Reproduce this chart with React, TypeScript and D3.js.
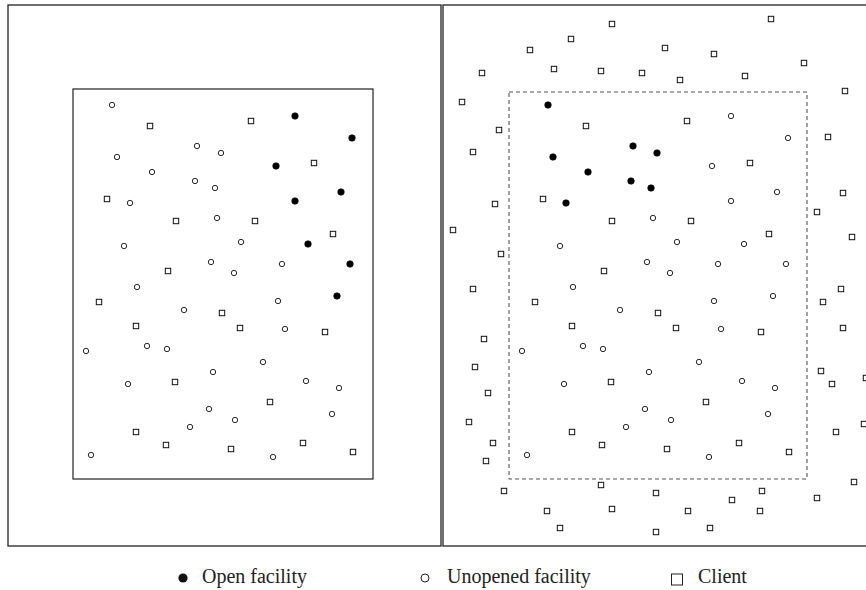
import React from "react";
import * as d3 from "d3";

const WIDTH = 866;
const HEIGHT = 590;

// candidate facility sites, shared by both panels (x right, y up; inner region is 0..300 x 0..390)
const facilities: [number, number][] = [
  [39, 374], [124, 333], [148, 326], [44, 322], [79, 307], [122, 298], [142, 291], [57, 276],
  [144, 261], [51, 233], [168, 237], [138, 217], [209, 215], [161, 206], [64, 192], [205, 178],
  [111, 169], [212, 150], [13, 128], [74, 133], [94, 130], [190, 117], [140, 107], [55, 95],
  [233, 98], [266, 91], [136, 70], [259, 65], [162, 59], [117, 52], [18, 24], [200, 22],
  [222, 363], [279, 341], [203, 313], [268, 287], [222, 278], [235, 235], [277, 215], [264, 183],
];

// which facilities are opened in each panel
const openLeft = [32, 33, 34, 35, 36, 37, 38, 39];
const openRight = [0, 1, 2, 3, 4, 5, 6, 7];

// clients inside the region (both panels)
const clients: [number, number][] = [
  [77, 353], [178, 358], [241, 316], [34, 280], [103, 258], [182, 258], [260, 245], [95, 208],
  [26, 177], [149, 166], [63, 153], [167, 151], [252, 147], [102, 97], [197, 77], [63, 47],
  [93, 34], [158, 30], [230, 36], [280, 27],
];

// extra clients outside the region (right panel only)
const outerClients: [number, number][] = [
  [103, 455], [62, 440], [21, 429], [-27, 406], [45, 410], [92, 408], [133, 406], [-47, 377],
  [-10, 349], [-36, 327], [-14, 275], [-56, 249], [-8, 225], [262, 460], [156, 431], [205, 425],
  [295, 416], [171, 399], [236, 403], [336, 388], [319, 342], [334, 286], [308, 267], [343, 242],
  [-36, 190], [-25, 140], [-34, 112], [-21, 86], [-40, 57], [-16, 36], [-23, 18], [-5, -12],
  [92, -6], [147, -14], [38, -32], [103, -30], [51, -49], [147, -53], [332, 190], [314, 177],
  [334, 151], [312, 108], [323, 95], [357, 101], [327, 47], [355, 55], [345, -3], [253, -12],
  [223, -21], [308, -19], [179, -32], [251, -32], [201, -49],
];

const legendLabels = ["Open facility", "Unopened facility", "Client"];

const yScale = d3.scaleLinear().domain([-67, 474]).range([546, 5]);

const panels = [
  {
    key: "left",
    x: d3.scaleLinear().domain([-65, 368]).range([8, 441]),
    box: [300, 390],
    dashed: false,
    open: openLeft,
    clientList: clients,
  },
  {
    key: "right",
    x: d3.scaleLinear().domain([-66, 367]).range([443, 876]),
    box: [298, 387],
    dashed: true,
    open: openRight,
    clientList: clients.concat(outerClients),
  },
];

const SQ = 5.4;

function Panel({ p }: { p: (typeof panels)[number] }) {
  const [xMin, xMax] = p.x.domain();
  const [yMin, yMax] = yScale.domain();
  return (
    <g>
      <rect
        x={p.x(xMin)}
        y={yScale(yMax)}
        width={p.x(xMax) - p.x(xMin)}
        height={yScale(yMin) - yScale(yMax)}
        fill="none"
        stroke="#222"
        strokeWidth={1.3}
      />
      <rect
        x={p.x(0)}
        y={yScale(p.box[1])}
        width={p.x(p.box[0]) - p.x(0)}
        height={yScale(0) - yScale(p.box[1])}
        fill="none"
        stroke={p.dashed ? "#555" : "#222"}
        strokeWidth={p.dashed ? 1.1 : 1.2}
        strokeDasharray={p.dashed ? "4,3" : undefined}
      />
      {p.clientList.map(([cx, cy], i) => (
        <rect
          key={"c" + i}
          x={p.x(cx) - SQ / 2}
          y={yScale(cy) - SQ / 2}
          width={SQ}
          height={SQ}
          fill="white"
          stroke="#111"
          strokeWidth={1}
        />
      ))}
      {facilities.map(([fx, fy], i) => {
        const isOpen = p.open.includes(i);
        return (
          <circle
            key={"f" + i}
            cx={p.x(fx)}
            cy={yScale(fy)}
            r={isOpen ? 3.3 : 2.7}
            fill={isOpen ? "#000" : "white"}
            stroke="#111"
            strokeWidth={isOpen ? 0.6 : 0.9}
          />
        );
      })}
    </g>
  );
}

export default function App() {
  return (
    <svg
      width={WIDTH}
      height={HEIGHT}
      style={{ position: "absolute", left: 0, top: 0, background: "white" }}
    >
      {panels.map((p) => (
        <Panel key={p.key} p={p} />
      ))}
      <g fontFamily="'Liberation Serif', 'Times New Roman', serif" fontSize={20} fill="#222">
        <circle cx={183} cy={578} r={4.6} fill="#111" />
        <text x={202} y={583}>{legendLabels[0]}</text>
        <circle cx={425} cy={578} r={4} fill="white" stroke="#222" strokeWidth={1} />
        <text x={447} y={583}>{legendLabels[1]}</text>
        <rect x={671.5} y={574} width={11} height={11} fill="white" stroke="#222" strokeWidth={1} />
        <text x={698} y={583}>{legendLabels[2]}</text>
      </g>
    </svg>
  );
}
